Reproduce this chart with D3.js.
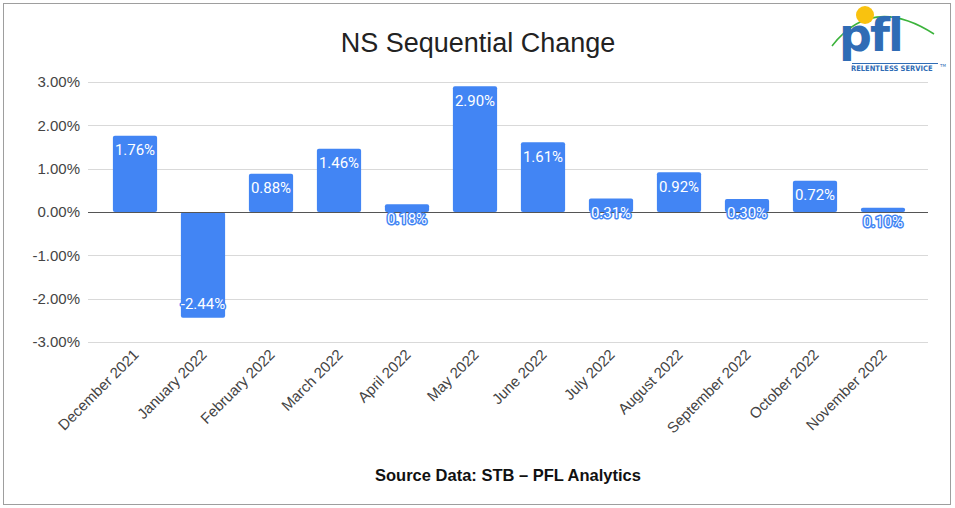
<!DOCTYPE html>
<html>
<head>
<meta charset="utf-8">
<script src="https://cdn.jsdelivr.net/npm/d3@7"></script>
<style>
  body { margin: 0; background: #fff; }
  svg { display: block; }
</style>
</head>
<body>
<svg id="chart" width="955" height="508"></svg>
<script>
// NS sequential change, month over month
var months = ['December 2021', 'January 2022', 'February 2022', 'March 2022', 'April 2022', 'May 2022',
  'June 2022', 'July 2022', 'August 2022', 'September 2022', 'October 2022', 'November 2022'];
var changes = [1.76, -2.44, 0.88, 1.46, 0.18, 2.90, 1.61, 0.31, 0.92, 0.30, 0.72, 0.10];
var yTicks = [-3, -2, -1, 0, 1, 2, 3];

var svg = d3.select('#chart');

// frame
svg.append('rect')
  .attr('x', 3.5).attr('y', 3.5)
  .attr('width', 947).attr('height', 501)
  .attr('fill', '#fff').attr('stroke', '#9e9e9e');

var x = d3.scaleBand()
  .domain(months)
  .range([101, 917])
  .paddingInner(0.35)
  .paddingOuter(0.175);

var y = d3.scaleLinear().domain([-3, 3]).range([342, 82]);

// gridlines
svg.append('g')
  .selectAll('line')
  .data(yTicks)
  .enter()
  .append('line')
  .attr('x1', 88).attr('x2', 928)
  .attr('y1', function(d) { return Math.round(y(d)) + 0.5; })
  .attr('y2', function(d) { return Math.round(y(d)) + 0.5; })
  .attr('stroke', '#d9d9d9')
  .attr('stroke-width', 1);

// y axis labels
var yAxis = svg.append('g')
  .attr('transform', 'translate(80,0)')
  .call(d3.axisLeft(y).tickValues(yTicks).tickSize(0).tickPadding(0)
    .tickFormat(function(d) { return d.toFixed(2) + '%'; }));
yAxis.select('.domain').remove();
yAxis.selectAll('text')
  .attr('font-family', 'Liberation Sans, Arial, sans-serif')
  .attr('font-size', 15)
  .attr('fill', '#444');

// bars
svg.append('g')
  .selectAll('rect')
  .data(changes)
  .enter()
  .append('rect')
  .attr('x', function(d, i) { return x(months[i]); })
  .attr('width', x.bandwidth())
  .attr('y', function(d) { return y(Math.max(0, d)); })
  .attr('height', function(d) { return Math.abs(y(d) - y(0)); })
  .attr('rx', 2)
  .attr('fill', '#4285f4');

// zero line
svg.append('line')
  .attr('x1', 88).attr('x2', 928)
  .attr('y1', Math.round(y(0)) + 0.5).attr('y2', Math.round(y(0)) + 0.5)
  .attr('stroke', '#555')
  .attr('stroke-width', 1.2);

// value labels
svg.append('g')
  .selectAll('text')
  .data(changes)
  .enter()
  .append('text')
  .attr('x', function(d, i) { return x(months[i]) + x.bandwidth() / 2; })
  .attr('y', function(d) {
    return d >= 0 ? y(d) + 14 : y(d) - 14;
  })
  .attr('dy', '0.36em')
  .attr('text-anchor', 'middle')
  .attr('font-family', 'Roboto, Arial, sans-serif')
  .attr('font-size', 15)
  .attr('fill', '#fff')
  .attr('stroke', '#4285f4')
  .attr('stroke-width', 3)
  .attr('stroke-linejoin', 'round')
  .attr('paint-order', 'stroke')
  .text(function(d) { return d.toFixed(2) + '%'; });

// x axis labels
var xAxis = svg.append('g')
  .attr('transform', 'translate(0,350)')
  .call(d3.axisBottom(x).tickSize(0).tickPadding(0));
xAxis.select('.domain').remove();
xAxis.selectAll('text')
  .attr('font-family', 'Liberation Sans, Arial, sans-serif')
  .attr('font-size', 15)
  .attr('fill', '#444')
  .attr('text-anchor', 'end')
  .attr('dy', '0.35em')
  .attr('transform', 'translate(1,2) rotate(-45)');

// title
svg.append('text')
  .attr('x', 478).attr('y', 52)
  .attr('text-anchor', 'middle')
  .attr('font-family', 'Liberation Sans, Arial, sans-serif')
  .attr('font-size', 27)
  .attr('fill', '#222')
  .text('NS Sequential Change');

// source
svg.append('text')
  .attr('x', 508).attr('y', 481)
  .attr('text-anchor', 'middle')
  .attr('font-family', 'Liberation Sans, Arial, sans-serif')
  .attr('font-size', 16.5)
  .attr('font-weight', 'bold')
  .attr('fill', '#111')
  .text('Source Data: STB \u2013 PFL Analytics');

// logo
var logo = svg.append('g');
logo.append('path')
  .attr('d', 'M832,46 Q872,-6 934,34')
  .attr('fill', 'none')
  .attr('stroke', '#3cb33c')
  .attr('stroke-width', 1.5);
logo.append('circle')
  .attr('cx', 865).attr('cy', 15).attr('r', 9)
  .attr('fill', '#f9c20f');
logo.append('text')
  .attr('x', 839).attr('y', 51)
  .attr('font-family', 'DejaVu Sans, sans-serif')
  .attr('font-size', 46)
  .attr('font-weight', 'bold')
  .attr('letter-spacing', -2)
  .attr('fill', '#2f6cb5')
  .text('pfl');
logo.append('line')
  .attr('x1', 852).attr('x2', 938)
  .attr('y1', 63.5).attr('y2', 63.5)
  .attr('stroke', '#2f6cb5').attr('stroke-width', 1);
logo.append('text')
  .attr('x', 851).attr('y', 71)
  .attr('font-family', 'DejaVu Sans Condensed, sans-serif')
  .attr('font-size', 7.5)
  .attr('font-weight', 'bold')
  .attr('fill', '#2f6cb5')
  .text('RELENTLESS SERVICE');
logo.append('text')
  .attr('x', 940).attr('y', 67)
  .attr('font-family', 'DejaVu Sans, sans-serif')
  .attr('font-size', 4)
  .attr('fill', '#2f6cb5')
  .text('TM');
</script>
</body>
</html>
